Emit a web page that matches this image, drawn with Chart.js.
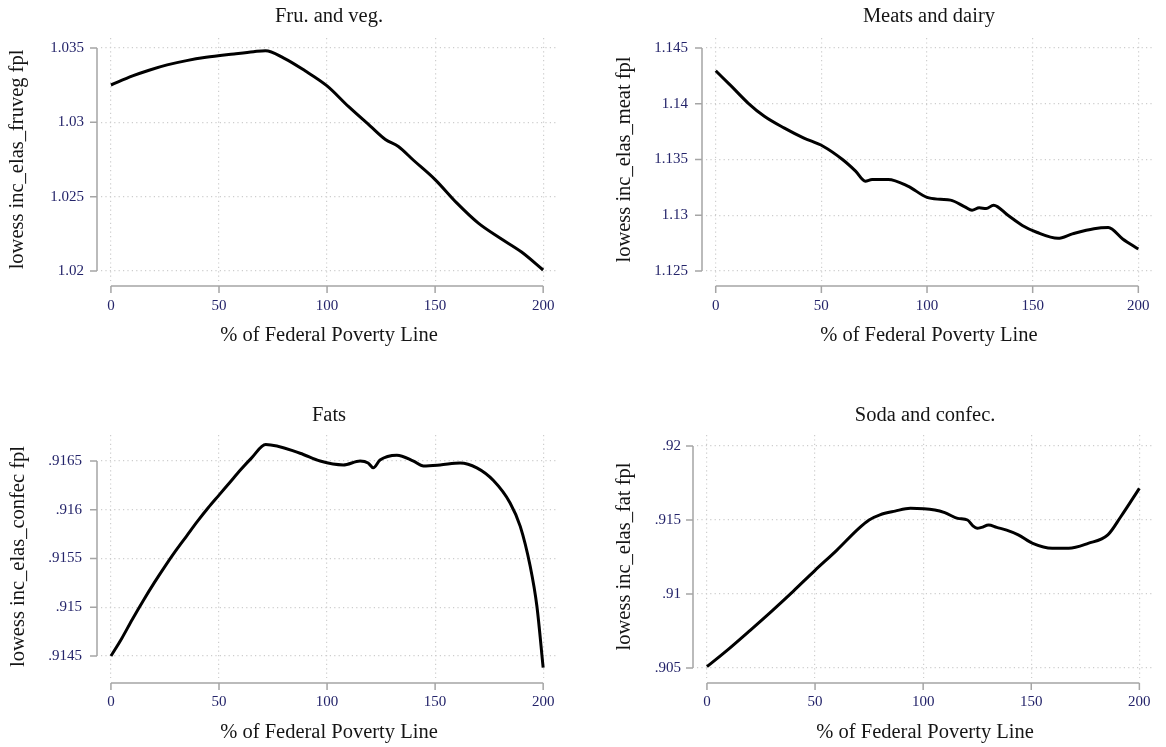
<!DOCTYPE html>
<html>
<head>
<meta charset="utf-8">
<script src="https://cdn.jsdelivr.net/npm/chart.js@4.4.1/dist/chart.umd.min.js"></script>
<style>
  html, body { margin: 0; padding: 0; background: #fff; }
  #wrap { position: relative; width: 1166px; height: 747px; }
  #wrap canvas { position: absolute; }
</style>
</head>
<body>
<div id="wrap">
  <canvas id="c1" width="583" height="373" style="left:0;top:0"></canvas>
  <canvas id="c2" width="583" height="373" style="left:583px;top:0"></canvas>
  <canvas id="c3" width="583" height="374" style="left:0;top:373px"></canvas>
  <canvas id="c4" width="583" height="374" style="left:583px;top:373px"></canvas>
</div>
<script>
// x axis: % of federal poverty line
const fplTicks = [0, 50, 100, 150, 200];

// Fru. and veg.
const fruvegX = [0, 10, 18, 26, 35, 44, 57, 66, 71.5, 80, 90, 100, 110, 120, 127, 133, 140, 150, 160, 170, 180, 190, 200];
const fruvegY = [1.03251, 1.03312, 1.03352, 1.03386, 1.03415, 1.03437, 1.03460, 1.03475, 1.03482, 1.03432, 1.03345, 1.03245, 1.03105, 1.02975, 1.02885, 1.02838, 1.02745, 1.02615, 1.02458, 1.02322, 1.02222, 1.02128, 1.02007];
const fruvegTicks = [1.02, 1.025, 1.03, 1.035];
const fruvegTickLabels = ['1.02', '1.025', '1.03', '1.035'];

// Meats and dairy
const meatX = [0, 7.5, 15.3, 23, 32.3, 41.5, 50.8, 60, 66.2, 70.8, 74, 81.6, 90.9, 100, 106.3, 111.1, 117.9, 121.3, 124.7, 128, 131.5, 138.3, 145.1, 151.9, 162, 168.8, 179, 185.8, 192.6, 200];
const meatY = [1.14295, 1.14155, 1.14006, 1.13887, 1.13783, 1.13694, 1.13619, 1.1350, 1.13396, 1.13306, 1.13321, 1.13321, 1.13262, 1.13160, 1.13143, 1.13136, 1.13076, 1.13045, 1.13067, 1.13060, 1.13091, 1.13000, 1.12909, 1.12848, 1.12794, 1.12833, 1.12880, 1.12890, 1.12788, 1.12697];
const meatTicks = [1.125, 1.13, 1.135, 1.14, 1.145];
const meatTickLabels = ['1.125', '1.13', '1.135', '1.14', '1.145'];

// Fats
const fatsX = [0, 5, 10, 15, 20, 25, 30, 35, 40, 45, 50, 55, 60, 65, 71.6, 87.5, 96.8, 107.5, 115.3, 119, 121.4, 124.5, 132.3, 140, 144.6, 152.3, 161.6, 169.3, 177, 184.7, 189.4, 194, 197.1, 200];
const fatsY = [0.9145, 0.91468, 0.91488, 0.91507, 0.91525, 0.91542, 0.91558, 0.91573, 0.91588, 0.91602, 0.91615, 0.91628, 0.91641, 0.91653, 0.91667, 0.91658, 0.91650, 0.91646, 0.91650, 0.91648, 0.91643, 0.91651, 0.91656, 0.91650, 0.91645, 0.91646, 0.91648, 0.91643, 0.91630, 0.91607, 0.91583, 0.91542, 0.91501, 0.91438];
const fatsTicks = [0.9145, 0.915, 0.9155, 0.916, 0.9165];
const fatsTickLabels = ['.9145', '.915', '.9155', '.916', '.9165'];

// Soda and confec.
const sodaX = [0, 10, 20, 30, 40, 50, 60, 70, 75, 80, 87, 94.1, 105.4, 110, 116, 120.5, 123, 125, 127, 130.3, 134, 138.6, 144, 150.7, 159.7, 167.3, 176.3, 185.4, 191.4, 200];
const sodaY = [0.90509, 0.90628, 0.90755, 0.90885, 0.91020, 0.91160, 0.91295, 0.91440, 0.91500, 0.91535, 0.91560, 0.91579, 0.91568, 0.91550, 0.91511, 0.91500, 0.91460, 0.91444, 0.91450, 0.91466, 0.91450, 0.91432, 0.91400, 0.91342, 0.91309, 0.91309, 0.91342, 0.91399, 0.91522, 0.91714];
const sodaTicks = [0.905, 0.91, 0.915, 0.92];
const sodaTickLabels = ['.905', '.91', '.915', '.92'];

const SERIF = "'Liberation Serif', 'Times New Roman', serif";
const TICK_COLOR = '#24246a';
const TEXT_COLOR = '#151515';

// Stata-style axis lines, offset from the plot region and spanning first to last tick
const stataAxes = {
  id: 'stataAxes',
  afterDraw(chart) {
    const { ctx, chartArea, scales: { x, y } } = chart;
    const yt = y.ticks.map(t => y.getPixelForValue(t.value));
    const xt = x.ticks.map(t => x.getPixelForValue(t.value));
    const ax = chartArea.left - 4;
    const ay = chartArea.bottom + 5;
    ctx.save();
    ctx.strokeStyle = '#a5a5a5';
    ctx.lineWidth = 1.5;
    ctx.beginPath();
    ctx.moveTo(ax, Math.min(...yt));
    ctx.lineTo(ax, Math.max(...yt));
    yt.forEach(p => { ctx.moveTo(ax, p); ctx.lineTo(ax - 7, p); });
    ctx.moveTo(Math.min(...xt), ay);
    ctx.lineTo(Math.max(...xt), ay);
    xt.forEach(p => { ctx.moveTo(p, ay); ctx.lineTo(p, ay + 7); });
    ctx.stroke();
    ctx.restore();
  }
};

function makePanel(id, p) {
  const canvas = document.getElementById(id);
  const ctx = canvas.getContext('2d');
  const points = p.xs.map((x, i) => ({ x: x, y: p.ys[i] }));
  return new Chart(ctx, {
    type: 'line',
    data: {
      datasets: [{
        data: points,
        borderColor: '#000',
        borderWidth: 3,
        pointRadius: 0,
        fill: false,
        cubicInterpolationMode: 'monotone'
      }]
    },
    options: {
      responsive: false,
      animation: false,
      events: [],
      layout: { padding: { left: 0, top: 0, right: p.padRight, bottom: 0 } },
      plugins: {
        legend: { display: false },
        tooltip: { enabled: false },
        title: {
          display: true,
          text: p.title,
          fullSize: false,
          color: TEXT_COLOR,
          font: { family: SERIF, size: 20.5, weight: 'normal', lineHeight: 1.2 },
          padding: { top: p.titleTop, bottom: p.titleBottom }
        }
      },
      scales: {
        x: {
          type: 'linear',
          min: -4.6,
          max: 206.4,
          afterBuildTicks: s => { s.ticks = fplTicks.map(v => ({ value: v })); },
          afterFit: s => { s.height = p.xHeight; },
          grid: { color: '#cdcdcd', lineWidth: 1.2, drawTicks: false },
          border: { display: false, dash: [1.2, 3.2] },
          ticks: {
            padding: p.xTickPad,
            color: TICK_COLOR,
            font: { family: SERIF, size: 15 },
            maxRotation: 0,
            callback: v => String(v)
          },
          title: {
            display: true,
            text: '% of Federal Poverty Line',
            color: TEXT_COLOR,
            font: { family: SERIF, size: 20.5, lineHeight: 1.2 },
            padding: { top: 0, bottom: p.xTitleBottom }
          }
        },
        y: {
          type: 'linear',
          min: p.yMin,
          max: p.yMax,
          afterBuildTicks: s => { s.ticks = p.ticks.map(v => ({ value: v })); },
          afterFit: s => { s.width = p.yWidth; },
          grid: { color: '#cdcdcd', lineWidth: 1.2, drawTicks: false },
          border: { display: false, dash: [1.2, 3.2] },
          ticks: {
            padding: p.yTickPad,
            color: TICK_COLOR,
            font: { family: SERIF, size: 15 },
            callback: (v, i) => p.tickLabels[i]
          },
          title: {
            display: true,
            text: p.yTitle,
            color: TEXT_COLOR,
            font: { family: SERIF, size: 20.5, lineHeight: 1.2 },
            padding: { top: p.yTitleTop, bottom: 0 }
          }
        }
      }
    },
    plugins: [stataAxes]
  });
}

makePanel('c1', {
  title: 'Fru. and veg.', yTitle: 'lowess inc_elas_fruveg fpl',
  xs: fruvegX, ys: fruvegY, ticks: fruvegTicks, tickLabels: fruvegTickLabels,
  yMin: 1.01933, yMax: 1.03567,
  padRight: 26, yWidth: 101, yTitleTop: 5.7, yTickPad: 17,
  titleTop: 4.7, titleBottom: 8.7, xHeight: 92, xTickPad: 16, xTitleBottom: 24.7
});

makePanel('c2', {
  title: 'Meats and dairy', yTitle: 'lowess inc_elas_meat fpl',
  xs: meatX, ys: meatY, ticks: meatTicks, tickLabels: meatTickLabels,
  yMin: 1.12411, yMax: 1.14589,
  padRight: 3, yWidth: 123, yTitleTop: 29.7, yTickPad: 18,
  titleTop: 4.7, titleBottom: 8.7, xHeight: 92, xTickPad: 16, xTitleBottom: 24.7
});

makePanel('c3', {
  title: 'Fats', yTitle: 'lowess inc_elas_confec fpl',
  xs: fatsX, ys: fatsY, ticks: fatsTicks, tickLabels: fatsTickLabels,
  yMin: 0.914274, yMax: 0.916767,
  padRight: 26, yWidth: 101, yTitleTop: 6.7, yTickPad: 19,
  titleTop: 30.7, titleBottom: 6.7, xHeight: 69, xTickPad: 15, xTitleBottom: 1.7
});

makePanel('c4', {
  title: 'Soda and confec.', yTitle: 'lowess inc_elas_fat fpl',
  xs: sodaX, ys: sodaY, ticks: sodaTicks, tickLabels: sodaTickLabels,
  yMin: 0.904324, yMax: 0.920743,
  padRight: 3, yWidth: 114, yTitleTop: 29.7, yTickPad: 16,
  titleTop: 30.7, titleBottom: 6.7, xHeight: 69, xTickPad: 15, xTitleBottom: 1.7
});
</script>
</body>
</html>
